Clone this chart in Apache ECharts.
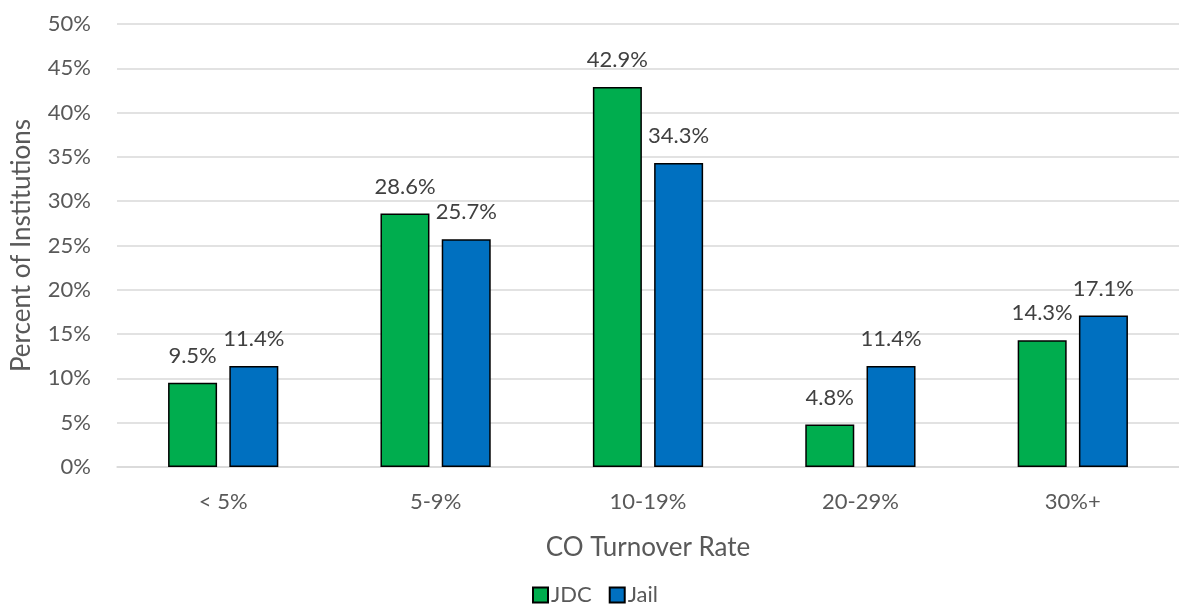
<!DOCTYPE html>
<html>
<head>
<meta charset="utf-8">
<script src="https://cdn.jsdelivr.net/npm/echarts@6/dist/echarts.min.js"></script>
<style>
  html, body { margin: 0; padding: 0; background: #fff; }
  #chart { width: 1179px; height: 612px; }
</style>
</head>
<body>
<div id="chart"></div>
<script>
// Turnover rate buckets and share of institutions (%) in each
const categories = ['< 5%', '5-9%', '10-19%', '20-29%', '30%+'];
const jdcValues = [9.5, 28.6, 42.9, 4.8, 14.3];
const jailValues = [11.4, 25.7, 34.3, 11.4, 17.1];
const seriesNames = ['JDC', 'Jail'];

const FONT = 'Lato, "Open Sans", sans-serif';

const chart = echarts.init(document.getElementById('chart'), null, { renderer: 'canvas' });

function barSeries(name, data, color) {
  return {
    name: name,
    type: 'bar',
    data: data,
    barWidth: 49,
    barGap: '25%',
    itemStyle: { color: color, borderColor: '#000', borderWidth: 1.5 },
    label: {
      show: true,
      position: 'top',
      distance: 16,
      formatter: p => p.value.toFixed(1) + '%',
      color: '#404040',
      fontSize: 22,
      fontFamily: FONT
    }
  };
}

chart.setOption({
  animation: false,
  textStyle: { fontFamily: FONT },
  grid: { left: 117, right: -8, top: 24, bottom: 145, containLabel: false },
  xAxis: {
    type: 'category',
    data: categories,
    name: 'CO Turnover Rate',
    nameLocation: 'middle',
    nameGap: 68,
    nameTextStyle: { color: '#595959', fontSize: 26, fontFamily: FONT },
    axisLine: { show: true, lineStyle: { color: '#d9d9d9', width: 1.5 } },
    axisTick: { show: false },
    axisLabel: { color: '#595959', fontSize: 22, fontFamily: FONT, margin: 24 }
  },
  yAxis: {
    type: 'value',
    min: 0,
    max: 50,
    interval: 5,
    name: 'Percent of Institutions',
    nameLocation: 'middle',
    nameGap: 82,
    nameRotate: 90,
    nameTextStyle: { color: '#595959', fontSize: 26, fontFamily: FONT },
    axisLine: { show: false },
    axisTick: { show: false },
    axisLabel: { color: '#595959', fontSize: 22, fontFamily: FONT, margin: 26, formatter: v => v + '%' },
    splitLine: { lineStyle: { color: '#d9d9d9', width: 1.5 } }
  },
  legend: {
    data: seriesNames,
    bottom: 1,
    left: 527,
    itemWidth: 15,
    itemHeight: 15,
    itemGap: 17,
    icon: 'rect',
    textStyle: { color: '#595959', fontSize: 22, fontFamily: FONT, padding: [0, 0, 0, -2] }
  },
  series: [
    barSeries(seriesNames[0], jdcValues, '#00ad4e'),
    barSeries(seriesNames[1], jailValues, '#0070c0')
  ]
});
</script>
</body>
</html>
